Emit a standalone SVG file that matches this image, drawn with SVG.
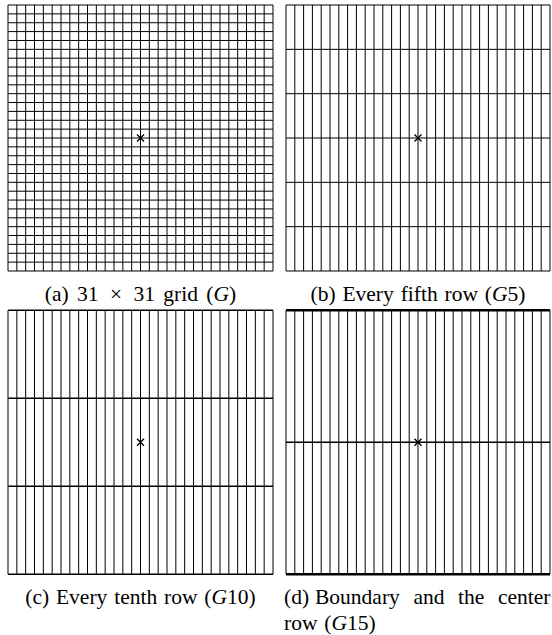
<svg xmlns="http://www.w3.org/2000/svg" width="552" height="635" viewBox="0 0 552 635">
<style>
.g{fill:none;stroke:#000;stroke-width:1}
.b1{fill:none;stroke:#000;stroke-width:1.4}
.b2{fill:none;stroke:#000;stroke-width:2.4}
.x{fill:none;stroke:#000;stroke-width:1.4}
.cap{font-family:"Liberation Serif","Times New Roman",serif;font-size:21.5px;fill:#000;word-spacing:1.5px}
.it{font-style:italic}
</style>
<rect width="552" height="635" fill="#fff"/>
<g id="panel-a">
<path class="g" d="M8 5V271M16.83 5V271M25.67 5V271M34.5 5V271M43.33 5V271M52.17 5V271M61 5V271M69.83 5V271M78.67 5V271M87.5 5V271M96.33 5V271M105.17 5V271M114 5V271M122.83 5V271M131.67 5V271M140.5 5V271M149.33 5V271M158.17 5V271M167 5V271M175.83 5V271M184.67 5V271M193.5 5V271M202.33 5V271M211.17 5V271M220 5V271M228.83 5V271M237.67 5V271M246.5 5V271M255.33 5V271M264.17 5V271M273 5V271"/>
<path class="g" d="M8 5H273M8 13.87H273M8 22.73H273M8 31.6H273M8 40.47H273M8 49.33H273M8 58.2H273M8 67.07H273M8 75.93H273M8 84.8H273M8 93.67H273M8 102.53H273M8 111.4H273M8 120.27H273M8 129.13H273M8 138H273M8 146.87H273M8 155.73H273M8 164.6H273M8 173.47H273M8 182.33H273M8 191.2H273M8 200.07H273M8 208.93H273M8 217.8H273M8 226.67H273M8 235.53H273M8 244.4H273M8 253.27H273M8 262.13H273M8 271H273"/>
<path class="x" d="M137 134.5L144 141.5M144 134.5L137 141.5"/>
<text class="cap" x="140.5" y="301" text-anchor="middle" style="word-spacing:3px">(a) 31 <tspan dx="3">×</tspan> <tspan dx="3">31</tspan> grid (<tspan class="it">G</tspan>)</text>
</g>
<g id="panel-b">
<path class="g" d="M286 5V271M294.8 5V271M303.6 5V271M312.4 5V271M321.2 5V271M330 5V271M338.8 5V271M347.6 5V271M356.4 5V271M365.2 5V271M374 5V271M382.8 5V271M391.6 5V271M400.4 5V271M409.2 5V271M418 5V271M426.8 5V271M435.6 5V271M444.4 5V271M453.2 5V271M462 5V271M470.8 5V271M479.6 5V271M488.4 5V271M497.2 5V271M506 5V271M514.8 5V271M523.6 5V271M532.4 5V271M541.2 5V271M550 5V271"/>
<path class="g" d="M286 5H550M286 49.33H550M286 93.67H550M286 138H550M286 182.33H550M286 226.67H550M286 271H550"/>
<path class="x" d="M414.5 134.5L421.5 141.5M421.5 134.5L414.5 141.5"/>
<text class="cap" x="418" y="301" text-anchor="middle">(b) Every fifth row (<tspan class="it">G</tspan>5)</text>
</g>
<g id="panel-c">
<path class="g" d="M8 310.3V574.3M16.83 310.3V574.3M25.67 310.3V574.3M34.5 310.3V574.3M43.33 310.3V574.3M52.17 310.3V574.3M61 310.3V574.3M69.83 310.3V574.3M78.67 310.3V574.3M87.5 310.3V574.3M96.33 310.3V574.3M105.17 310.3V574.3M114 310.3V574.3M122.83 310.3V574.3M131.67 310.3V574.3M140.5 310.3V574.3M149.33 310.3V574.3M158.17 310.3V574.3M167 310.3V574.3M175.83 310.3V574.3M184.67 310.3V574.3M193.5 310.3V574.3M202.33 310.3V574.3M211.17 310.3V574.3M220 310.3V574.3M228.83 310.3V574.3M237.67 310.3V574.3M246.5 310.3V574.3M255.33 310.3V574.3M264.17 310.3V574.3M273 310.3V574.3"/>
<path class="b1" d="M8 310.3H273M8 398.3H273M8 486.3H273M8 574.3H273"/>
<path class="x" d="M137 438.8L144 445.8M144 438.8L137 445.8"/>
<text class="cap" x="140.5" y="604" text-anchor="middle">(c) Every tenth row (<tspan class="it">G</tspan>10)</text>
</g>
<g id="panel-d">
<path class="g" d="M286 310.3V574.3M294.8 310.3V574.3M303.6 310.3V574.3M312.4 310.3V574.3M321.2 310.3V574.3M330 310.3V574.3M338.8 310.3V574.3M347.6 310.3V574.3M356.4 310.3V574.3M365.2 310.3V574.3M374 310.3V574.3M382.8 310.3V574.3M391.6 310.3V574.3M400.4 310.3V574.3M409.2 310.3V574.3M418 310.3V574.3M426.8 310.3V574.3M435.6 310.3V574.3M444.4 310.3V574.3M453.2 310.3V574.3M462 310.3V574.3M470.8 310.3V574.3M479.6 310.3V574.3M488.4 310.3V574.3M497.2 310.3V574.3M506 310.3V574.3M514.8 310.3V574.3M523.6 310.3V574.3M532.4 310.3V574.3M541.2 310.3V574.3M550 310.3V574.3"/>
<path class="b2" d="M286 310.3H550M286 574.3H550"/>
<path class="b1" d="M286 442.3H550"/>
<path class="x" d="M414.5 438.8L421.5 445.8M421.5 438.8L414.5 445.8"/>
<text class="cap" y="604"><tspan x="284">(d)</tspan><tspan x="315">Boundary</tspan><tspan x="413.5">and</tspan><tspan x="458">the</tspan></text>
<text class="cap" x="550.5" y="604" text-anchor="end">center</text>
<text class="cap" x="284" y="630">row (<tspan class="it">G</tspan>15)</text>
</g>
</svg>
